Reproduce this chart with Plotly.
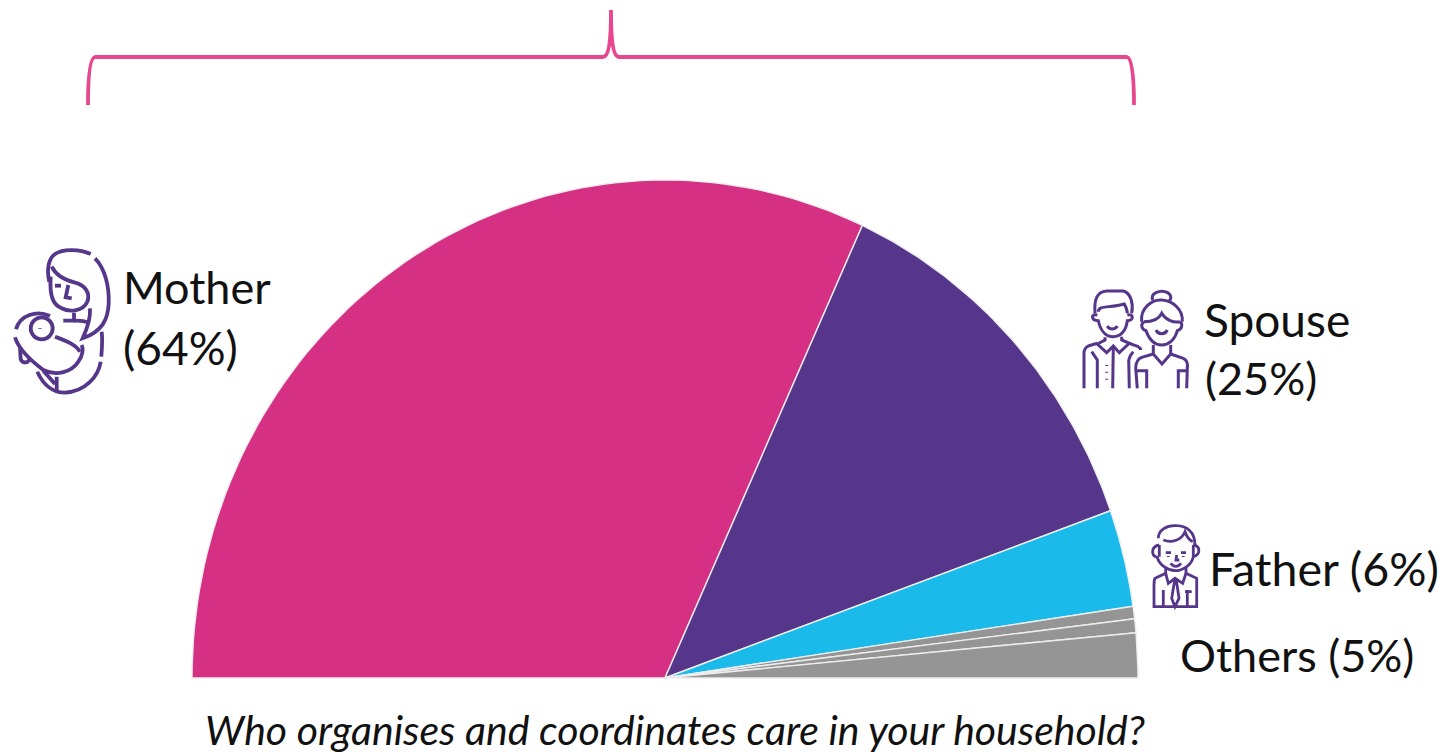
import re
import numpy as np
import plotly.graph_objects as go

categories = ["Mother", "Spouse", "Father", "Others A", "Others B", "Others C"]
values = [63.7, 25.4, 6.3, 0.8, 0.9, 2.9]
colors = ["#D63085", "#55368A", "#1ABBEA", "#959595", "#959595", "#959595"]

PURPLE = "#55368A"
FONT = "Lato"
CX, CY, RX, RY = 665, 678, 473, 498

fig = go.Figure()
cum = np.concatenate([[0], np.cumsum(values)]) / sum(values)
for i, name in enumerate(categories):
    t = np.pi * (1 - np.linspace(cum[i], cum[i + 1], 80))
    x = np.concatenate([[CX], CX + RX * np.cos(t), [CX]])
    y = np.concatenate([[CY], CY - RY * np.sin(t), [CY]])
    fig.add_trace(go.Scatter(x=x, y=y, mode="lines", fill="toself", fillcolor=colors[i],
                             line=dict(color="#EDEDED", width=1.4), name=name,
                             hoverinfo="name", showlegend=False))


def icon(path, ox, oy, s=1 / 3):
    toks = re.findall(r"[A-Za-z]|-?\d+\.?\d*", path)
    out, idx = [], 0
    for tk in toks:
        if tk.isalpha():
            out.append(tk)
            idx = 0
        else:
            v = float(tk) * s + (ox if idx % 2 == 0 else oy)
            out.append(f"{v:.1f}")
            idx += 1
    return " ".join(out)


def add_icon(paths, ox, oy, width=2.6):
    for p in paths:
        fig.add_shape(type="path", path=icon(p, ox, oy), xref="x", yref="y",
                      line=dict(color=PURPLE, width=width), fillcolor="rgba(0,0,0,0)")


def circle(cx, cy, r):
    k = r * 0.5523
    return (f"M {cx-r} {cy} C {cx-r} {cy-k} {cx-k} {cy-r} {cx} {cy-r} "
            f"C {cx+k} {cy-r} {cx+r} {cy-k} {cx+r} {cy} "
            f"C {cx+r} {cy+k} {cx+k} {cy+r} {cx} {cy+r} "
            f"C {cx-k} {cy+r} {cx-r} {cy+k} {cx-r} {cy}")


mother = [
    "M 272 42 C 240 28 190 25 165 42 C 140 60 142 100 148 125",
    "M 285 55 C 315 85 328 140 326 190 C 324 240 305 275 248 295 C 262 265 272 235 270 205",
    "M 155 80 C 170 110 200 122 225 128 C 255 135 272 160 262 185 C 250 212 210 218 185 205 C 160 195 148 170 152 110",
    "M 165 137 L 183 137",
    "M 205 135 L 197 172 L 215 175",
    "M 222 218 L 222 242 L 190 242",
    "M 268 248 C 245 240 228 242 222 242",
    circle(125, 265, 33),
    "M 150 228 C 110 210 60 225 48 268",
    "M 45 292 C 55 325 90 360 130 390 C 170 410 215 395 235 365 C 250 345 250 325 245 315",
    "M 165 290 C 190 300 225 310 240 335",
    "M 60 325 L 62 358 C 68 372 85 370 90 355",
    "M 305 275 C 308 300 306 325 304 350",
    "M 302 365 C 295 410 255 455 195 458 C 160 458 130 435 112 395",
    "M 130 392 L 165 432 M 170 410 L 170 455",
    "M 120 265 L 120 267",
]
add_icon(mother, 0, 240, 3.8)

spouse = [
    "M 75 100 C 72 60 80 35 110 33 L 160 33 C 185 40 190 75 185 100",
    "M 85 95 C 85 75 120 85 163 72 C 170 85 172 90 172 100",
    "M 82 105 C 62 100 62 122 85 122 C 92 155 110 170 130 170 C 150 170 168 155 172 122 C 192 122 192 100 172 105",
    "M 112 138 C 118 150 135 150 142 138",
    "M 105 172 L 105 180 L 82 192 L 110 218 L 130 198 L 148 218 L 178 190 L 155 180 L 155 170",
    "M 82 190 L 55 198 C 45 203 42 210 42 220 L 42 325",
    "M 178 190 L 205 200 C 210 203 212 206 212 210",
    "M 65 215 L 82 240 L 82 325",
    "M 130 198 L 128 325",
    "M 176 240 L 178 325",
    "M 190 215 C 180 225 177 235 176 240",
    "M 110 255 L 110 258 M 110 275 L 110 278 M 110 296 L 110 299",
    "M 248 60 C 240 40 270 30 285 35 C 305 40 305 55 298 62",
    "M 215 125 C 210 85 245 58 275 60 C 310 62 340 90 337 125",
    "M 222 125 C 250 125 268 115 275 100 C 285 118 310 130 330 125",
    "M 222 125 C 210 135 215 148 228 152 C 240 185 260 195 275 195 C 295 195 315 180 322 152 C 338 148 338 130 330 125",
    "M 258 150 C 265 165 285 165 292 150",
    "M 250 195 L 250 222 L 276 252 L 302 222 L 302 195",
    "M 250 222 L 215 232 C 200 238 197 250 197 265 L 202 325",
    "M 302 222 L 340 235 C 352 240 354 250 352 265 L 350 325",
    "M 200 272 L 230 272 L 230 325",
    "M 350 272 L 325 272 L 325 325",
]
add_icon(spouse, 1070, 280, 3)

father = [
    "M 175 85 C 175 60 200 45 230 47 C 260 48 285 65 285 105",
    "M 190 90 C 215 100 245 90 255 65 C 260 80 268 90 278 95",
    "M 178 105 C 155 108 150 135 172 142 C 178 165 205 182 225 182 C 248 182 275 165 280 140 C 302 135 302 108 280 105",
    "M 178 105 L 178 140 M 280 105 L 280 140",
    "M 197 128 L 213 128 M 243 128 L 258 128",
    "M 205 138 L 205 141 M 250 138 L 250 141",
    "M 230 135 L 228 150 L 238 150",
    "M 212 160 C 220 172 235 172 243 160",
    "M 197 172 L 197 190 L 165 205 C 162 210 162 215 162 225 L 162 290 L 290 290 L 290 205 L 258 190 L 258 172",
    "M 197 190 L 205 220 L 225 205 L 248 220 L 258 190",
    "M 225 205 L 215 265 L 225 290 L 237 265 L 228 205",
    "M 190 240 L 190 290 M 262 240 L 262 290 M 255 245 L 275 245",
]
add_icon(father, 1100, 510, 2.8)

fig.add_shape(type="path", xref="x", yref="y",
              path=("M 88 105 C 88 85 89 58 95 57 L 603 57 C 608 57 611 45 611 10 "
                    "C 611 45 614 57 619 57 L 1127 57 C 1133 58 1134 85 1134 105"),
              line=dict(color="#E8478F", width=3.8), fillcolor="rgba(0,0,0,0)")

texts = [
    ("Mother", 121, 287, 45, "normal"),
    ("(64%)", 121, 347, 46, "normal"),
    ("Spouse", 1202, 319, 46, "normal"),
    ("(25%)", 1203, 378, 45, "normal"),
    ("Father (6%)", 1207, 568, 46.5, "normal"),
    ("Others (5%)", 1178, 655, 45, "normal"),
    ("Who organises and coordinates care in your household?", 203, 729, 41, "italic"),
]
for txt, x, y, size, style in texts:
    fig.add_annotation(text=txt, x=x, y=y, xref="x", yref="y", xanchor="left", yanchor="middle",
                       showarrow=False, align="left",
                       font=dict(family=FONT, size=size, color="#111111", style=style))

fig.update_layout(
    width=1447, height=754, autosize=False,
    margin=dict(l=0, r=0, t=0, b=0),
    paper_bgcolor="white", plot_bgcolor="white", showlegend=False,
    xaxis=dict(range=[0, 1447], visible=False, fixedrange=True),
    yaxis=dict(range=[754, 0], visible=False, fixedrange=True),
)
fig.write_html("out.html", config=dict(displayModeBar=False),
               post_script="document.body.style.margin='0';document.body.style.overflow='hidden';")
